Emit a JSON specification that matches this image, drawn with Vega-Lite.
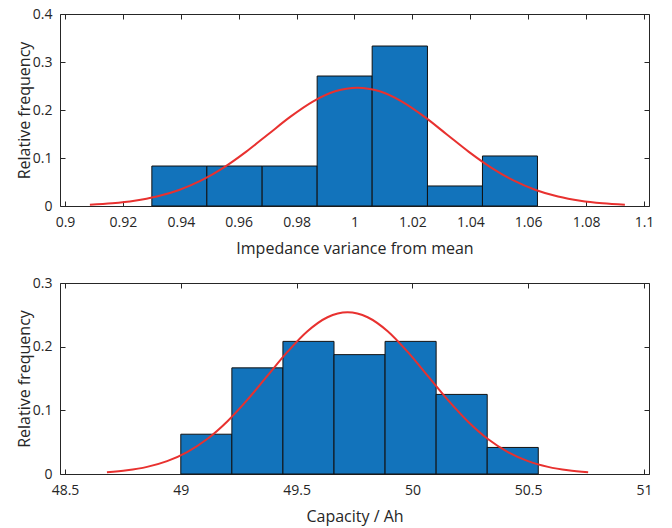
{
  "$schema": "https://vega.github.io/schema/vega-lite/v6.json",
  "background": "white",
  "padding": {"left": 15, "top": 6, "right": 5, "bottom": 2},
  "spacing": 18,
  "datasets": {
    "imp_bins": [
      {"start": 0.9300, "end": 0.9490, "freq": 0.0833},
      {"start": 0.9490, "end": 0.9681, "freq": 0.0833},
      {"start": 0.9681, "end": 0.9871, "freq": 0.0833},
      {"start": 0.9871, "end": 1.0061, "freq": 0.2708},
      {"start": 1.0061, "end": 1.0252, "freq": 0.3333},
      {"start": 1.0252, "end": 1.0442, "freq": 0.0417},
      {"start": 1.0442, "end": 1.0632, "freq": 0.1042}
    ],
    "imp_fit": [
      {"x": 0.9086, "y": 0.0027}, {"x": 0.9163, "y": 0.0056}, {"x": 0.9240, "y": 0.0108},
      {"x": 0.9317, "y": 0.0196}, {"x": 0.9394, "y": 0.0334}, {"x": 0.9471, "y": 0.0533},
      {"x": 0.9548, "y": 0.0800}, {"x": 0.9625, "y": 0.1128}, {"x": 0.9702, "y": 0.1495},
      {"x": 0.9779, "y": 0.1861}, {"x": 0.9856, "y": 0.2175}, {"x": 0.9933, "y": 0.2389},
      {"x": 1.0010, "y": 0.2465}, {"x": 1.0087, "y": 0.2389}, {"x": 1.0164, "y": 0.2175},
      {"x": 1.0241, "y": 0.1861}, {"x": 1.0318, "y": 0.1495}, {"x": 1.0395, "y": 0.1128},
      {"x": 1.0472, "y": 0.0800}, {"x": 1.0549, "y": 0.0533}, {"x": 1.0626, "y": 0.0334},
      {"x": 1.0703, "y": 0.0196}, {"x": 1.0780, "y": 0.0108}, {"x": 1.0857, "y": 0.0056},
      {"x": 1.0934, "y": 0.0027}
    ],
    "cap_bins": [
      {"start": 49.0000, "end": 49.2205, "freq": 0.0625},
      {"start": 49.2205, "end": 49.4410, "freq": 0.1667},
      {"start": 49.4410, "end": 49.6615, "freq": 0.2083},
      {"start": 49.6615, "end": 49.8820, "freq": 0.1875},
      {"start": 49.8820, "end": 50.1025, "freq": 0.2083},
      {"start": 50.1025, "end": 50.3230, "freq": 0.1250},
      {"start": 50.3230, "end": 50.5435, "freq": 0.0417}
    ],
    "cap_fit": [
      {"x": 48.6811, "y": 0.0028}, {"x": 48.7677, "y": 0.0058}, {"x": 48.8543, "y": 0.0112},
      {"x": 48.9408, "y": 0.0202}, {"x": 49.0274, "y": 0.0344}, {"x": 49.1140, "y": 0.0549},
      {"x": 49.2006, "y": 0.0825}, {"x": 49.2871, "y": 0.1163}, {"x": 49.3737, "y": 0.1541},
      {"x": 49.4603, "y": 0.1917}, {"x": 49.5469, "y": 0.2242}, {"x": 49.6334, "y": 0.2462},
      {"x": 49.7200, "y": 0.2540}, {"x": 49.8066, "y": 0.2462}, {"x": 49.8932, "y": 0.2242},
      {"x": 49.9797, "y": 0.1917}, {"x": 50.0663, "y": 0.1541}, {"x": 50.1529, "y": 0.1163},
      {"x": 50.2395, "y": 0.0825}, {"x": 50.3260, "y": 0.0549}, {"x": 50.4126, "y": 0.0344},
      {"x": 50.4992, "y": 0.0202}, {"x": 50.5858, "y": 0.0112}, {"x": 50.6723, "y": 0.0058},
      {"x": 50.7589, "y": 0.0028}
    ]
  },
  "config": {
    "view": {"stroke": "#262626", "strokeWidth": 1},
    "font": "Open Sans",
    "axis": {
      "domain": false,
      "grid": false,
      "tickSize": -5,
      "tickColor": "#262626",
      "tickWidth": 1,
      "labelFlush": false,
      "labelFont": "Open Sans",
      "labelFontSize": 14,
      "labelColor": "#262626",
      "titleFont": "Open Sans",
      "titleFontSize": 16,
      "titleFontWeight": "normal",
      "titleColor": "#262626"
    }
  },
  "vconcat": [
    {
      "width": 589,
      "height": 192,
      "resolve": {"axis": {"x": "independent", "y": "independent"}},
      "layer": [
        {
          "data": {"name": "imp_bins"},
          "mark": {"type": "bar", "color": "#1273bb", "stroke": "#111111", "strokeWidth": 1, "orient": "vertical"},
          "encoding": {
            "x": {"field": "start", "type": "quantitative", "scale": {"domain": [0.9, 1.1], "nice": false, "zero": false},
                  "axis": {"orient": "bottom", "title": "Impedance variance from mean", "values": [0.9, 0.92, 0.94, 0.96, 0.98, 1, 1.02, 1.04, 1.06, 1.08, 1.1], "format": "~g", "labelPadding": 14, "titlePadding": 11}},
            "x2": {"field": "end"},
            "y": {"field": "freq", "type": "quantitative", "scale": {"domain": [0, 0.4], "nice": false},
                  "axis": {"orient": "left", "title": "Relative frequency", "values": [0, 0.1, 0.2, 0.3, 0.4], "format": "~g", "labelPadding": 13, "titlePadding": 0}},
            "y2": {"datum": 0}
          }
        },
        {
          "data": {"name": "imp_fit"},
          "mark": {"type": "line", "color": "#e8312f", "strokeWidth": 2, "interpolate": "monotone"},
          "encoding": {
            "x": {"field": "x", "type": "quantitative",
                  "axis": {"orient": "top", "title": null, "labels": false, "values": [0.9, 0.92, 0.94, 0.96, 0.98, 1, 1.02, 1.04, 1.06, 1.08, 1.1]}},
            "y": {"field": "y", "type": "quantitative",
                  "axis": {"orient": "right", "title": null, "labels": false, "values": [0, 0.1, 0.2, 0.3, 0.4]}}
          }
        }
      ]
    },
    {
      "width": 589,
      "height": 191,
      "resolve": {"axis": {"x": "independent", "y": "independent"}},
      "layer": [
        {
          "data": {"name": "cap_bins"},
          "mark": {"type": "bar", "color": "#1273bb", "stroke": "#111111", "strokeWidth": 1, "orient": "vertical"},
          "encoding": {
            "x": {"field": "start", "type": "quantitative", "scale": {"domain": [48.5, 51], "nice": false, "zero": false},
                  "axis": {"orient": "bottom", "title": "Capacity / Ah", "values": [48.5, 49, 49.5, 50, 50.5, 51], "format": "~g", "labelPadding": 14, "titlePadding": 11}},
            "x2": {"field": "end"},
            "y": {"field": "freq", "type": "quantitative", "scale": {"domain": [0, 0.3], "nice": false},
                  "axis": {"orient": "left", "title": "Relative frequency", "values": [0, 0.1, 0.2, 0.3], "format": "~g", "labelPadding": 13, "titlePadding": 0}},
            "y2": {"datum": 0}
          }
        },
        {
          "data": {"name": "cap_fit"},
          "mark": {"type": "line", "color": "#e8312f", "strokeWidth": 2, "interpolate": "monotone"},
          "encoding": {
            "x": {"field": "x", "type": "quantitative",
                  "axis": {"orient": "top", "title": null, "labels": false, "values": [48.5, 49, 49.5, 50, 50.5, 51]}},
            "y": {"field": "y", "type": "quantitative",
                  "axis": {"orient": "right", "title": null, "labels": false, "values": [0, 0.1, 0.2, 0.3]}}
          }
        }
      ]
    }
  ]
}
